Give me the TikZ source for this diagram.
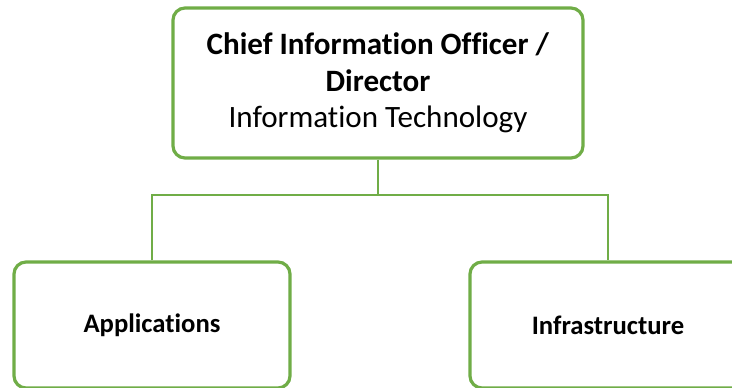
\documentclass[tikz,border=0pt]{standalone}
\usepackage{fontspec}
\setmainfont[Ligatures=NoCommon]{Carlito}
\definecolor{orggreen}{RGB}{112,173,71}
\begin{document}
\begin{tikzpicture}[x=0.75pt,y=-0.75pt,
  unitbox/.style={draw=orggreen, line width=2.4pt, rounded corners=9pt,
    fill=white, text=black, align=center, inner sep=0pt},
  link/.style={draw=orggreen, line width=2pt}]
  \useasboundingbox (0,0) rectangle (732,387);
  \clip (0,0) rectangle (732,387);
  % chief information officer
  \node[unitbox, minimum width=307.5pt, minimum height=112.5pt,
    font=\fontsize{23.3}{27.4}\selectfont] (cio) at (378,83)
    {\textbf{Chief Information Officer /}\\\textbf{Director}\\Information Technology};
  % the two divisions
  \node[unitbox, minimum width=207pt, minimum height=94.5pt,
    font=\fontsize{20}{24}\selectfont\bfseries] (apps) at (152,325) {Applications};
  \node[unitbox, minimum width=207pt, minimum height=94.5pt,
    font=\fontsize{20}{24}\selectfont\bfseries] (infra) at (608,325) {Infrastructure};
  % branch point under the top box
  \coordinate (j) at (378,195);
  \draw[link] (cio.south) -- (j);
  \draw[link] (apps.north) |- (j) -| (infra.north);
\end{tikzpicture}
\end{document}
